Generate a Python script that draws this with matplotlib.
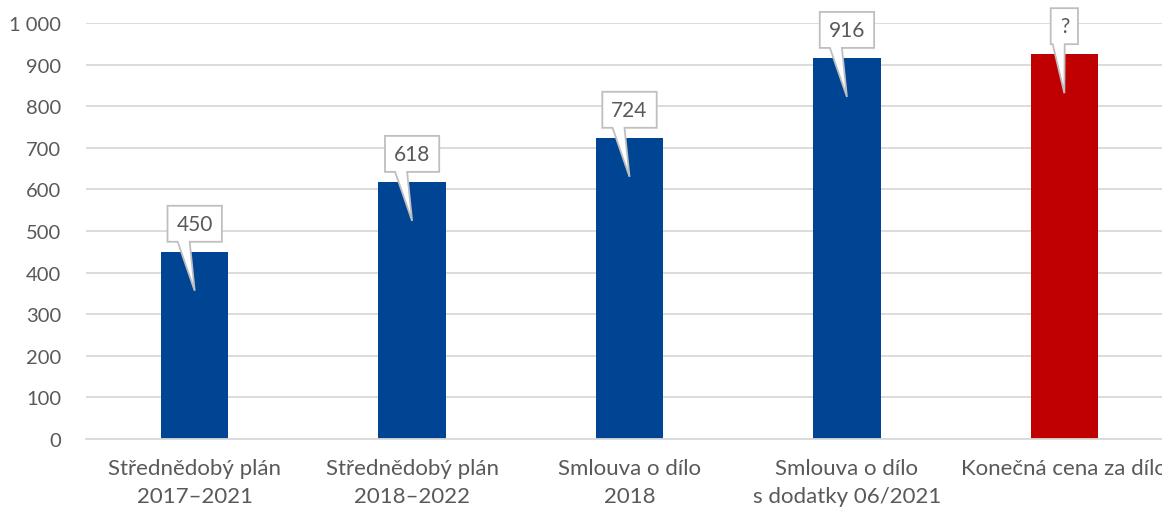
import matplotlib.pyplot as plt
import matplotlib.transforms as mtransforms
from matplotlib.patches import Polygon

categories = ['Střednědobý plán\n2017–2021', 'Střednědobý plán\n2018–2022',
              'Smlouva o dílo\n2018', 'Smlouva o dílo\ns dodatky 06/2021',
              'Konečná cena za dílo']
values = [450, 618, 724, 916, 925]
labels = ['450', '618', '724', '916', '?']
colors = ['#004494', '#004494', '#004494', '#004494', '#c00000']

plt.rcParams['font.family'] = ['Lato', 'DejaVu Sans']
text_col = '#595959'

fig = plt.figure(figsize=(11.62, 5.10), dpi=100)
ax = fig.add_axes([0.074, 0.1373, 0.9355, 0.8157])

x = list(range(len(categories)))
ax.bar(x, values, width=0.31, color=colors, zorder=2)

ax.set_ylim(0, 1000)
ax.set_xlim(-0.5, len(categories) - 0.5)
ax.set_yticks(range(0, 1001, 100))
ax.set_yticklabels(['0', '100', '200', '300', '400', '500', '600', '700', '800', '900', '1 000'])
ax.set_xticks(x)
ax.set_xticklabels(categories, linespacing=1.45)
ax.tick_params(axis='both', length=0, labelcolor=text_col)
ax.tick_params(axis='y', pad=18, labelsize=14.5)
ax.tick_params(axis='x', pad=14, labelsize=16)
ax.grid(axis='y', color='#d9d9d9', linewidth=1.3, zorder=0)
for s in ['top', 'right', 'left']:
    ax.spines[s].set_visible(False)
ax.spines['bottom'].set_color('#d9d9d9')
ax.spines['bottom'].set_linewidth(1.3)

# speech-bubble callouts
renderer = fig.canvas.get_renderer()
for xi, v, lab in zip(x, values, labels):
    trans = fig.dpi_scale_trans + mtransforms.ScaledTranslation(xi, v, ax.transData)
    t = ax.text(0, 0.28, lab, transform=trans, ha='center', va='center',
                fontsize=15, color=text_col, zorder=5, clip_on=False)
    tw = t.get_window_extent(renderer).width
    w = tw + 18
    left = max(-17, -w / 2 + 2)
    right = left + 12
    pts = [(-w / 2, 10), (left, 10), (0, -39), (right, 10), (w / 2, 10),
           (w / 2, 46), (-w / 2, 46)]
    pts = [(px / 100, py / 100) for px, py in pts]
    poly = Polygon(pts, closed=True, facecolor='white', edgecolor='#bfbfbf',
                   linewidth=1.3, transform=trans, zorder=4, clip_on=False)
    ax.add_patch(poly)

fig.savefig('out.png', dpi=100)
